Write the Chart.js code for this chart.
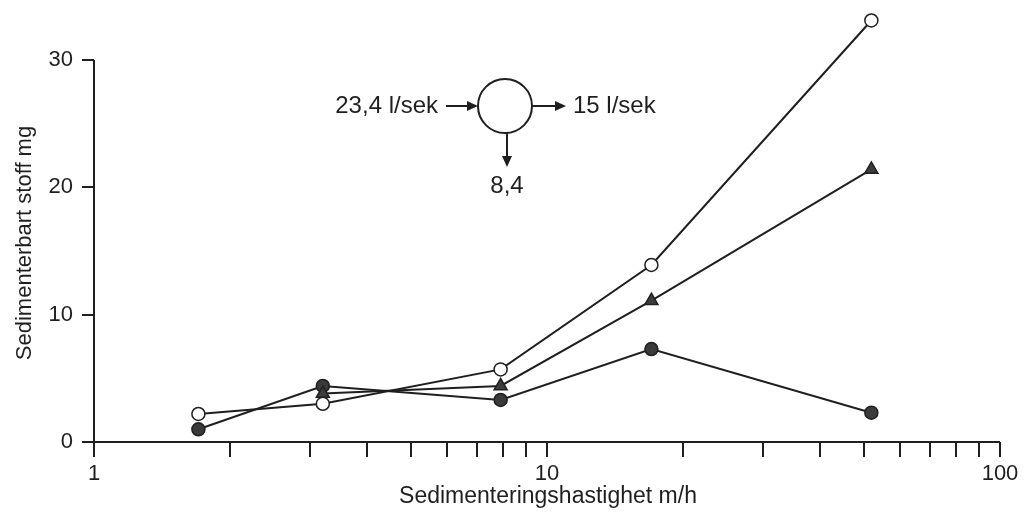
<!DOCTYPE html>
<html>
<head>
<meta charset="utf-8">
<title>Sedimenterbart stoff</title>
<script src="https://cdn.jsdelivr.net/npm/chart.js@4.4.1/dist/chart.umd.min.js"></script>
<style>
  html, body { margin: 0; padding: 0; background: #fff; }
  #wrap { width: 1025px; height: 527px; position: relative; }
</style>
</head>
<body>
<div id="wrap"><canvas id="sediment-chart"></canvas></div>
<script>
const speeds = [1.7, 3.2, 7.9, 17, 52]
const openCircle = [2.2, 3.0, 5.7, 13.9, 33.1]
const triangle = [null, 3.8, 4.4, 11.1, 21.4]
const filledCircle = [1.0, 4.4, 3.3, 7.3, 2.3]

const yTicks = [0, 10, 20, 30]
const xTicks = [1, 2, 3, 4, 5, 6, 7, 8, 9, 10, 20, 30, 40, 50, 60, 70, 80, 90, 100]
const xLabels = [1, 10, 100]

const xTitle = 'Sedimenteringshastighet m/h'
const yTitle = 'Sedimenterbart stoff mg'
const flowIn = '23,4 l/sek'
const flowOut = '15 l/sek'
const flowDown = '8,4'

const ink = '#1f1f1f'
const font = '"Liberation Sans", Arial, sans-serif'

const toPoints = (values) =>
  speeds.map((s, i) => ({ x: s, y: values[i] })).filter((p) => p.y !== null)

const arrowHead = (ctx, x, y, dir) => {
  // dir: 'right' or 'down', tip at x,y
  ctx.beginPath()
  if (dir === 'right') {
    ctx.moveTo(x, y)
    ctx.lineTo(x - 11, y - 5)
    ctx.lineTo(x - 11, y + 5)
  } else {
    ctx.moveTo(x, y)
    ctx.lineTo(x - 5, y - 11)
    ctx.lineTo(x + 5, y - 11)
  }
  ctx.closePath()
  ctx.fill()
}

const axisLines = {
  id: 'axisLines',
  beforeDatasetsDraw: (chart) => {
    const { ctx, scales: { x, y } } = chart
    const y0 = y.getPixelForValue(0)
    ctx.save()
    ctx.strokeStyle = ink
    ctx.lineWidth = 2
    ctx.beginPath()
    ctx.moveTo(x.left, y.getPixelForValue(yTicks[yTicks.length - 1]))
    ctx.lineTo(x.left, y0 + 5)
    ctx.moveTo(x.left - 12, y0)
    ctx.lineTo(x.getPixelForValue(100), y0)
    ctx.stroke()

    ctx.fillStyle = ink
    ctx.textAlign = 'center'
    ctx.textBaseline = 'middle'
    ctx.font = '23px ' + font
    ctx.fillText(xTitle, 548, 497)
    ctx.font = '22px ' + font
    ctx.translate(25, 243)
    ctx.rotate(-Math.PI / 2)
    ctx.fillText(yTitle, 0, 0)
    ctx.restore()
  },
}

const flowDiagram = {
  id: 'flowDiagram',
  afterDraw: (chart) => {
    const ctx = chart.ctx
    const cx = 505, cy = 106, r = 27
    ctx.save()
    ctx.strokeStyle = ink
    ctx.fillStyle = ink
    ctx.lineWidth = 2
    ctx.beginPath()
    ctx.arc(cx, cy, r, 0, Math.PI * 2)
    ctx.stroke()

    ctx.beginPath()
    ctx.moveTo(446, cy)
    ctx.lineTo(cx - r - 4, cy)
    ctx.moveTo(cx + r, cy)
    ctx.lineTo(560, cy)
    ctx.moveTo(cx + 2, cy + r)
    ctx.lineTo(cx + 2, 160)
    ctx.stroke()
    arrowHead(ctx, cx - r, cy, 'right')
    arrowHead(ctx, 566, cy, 'right')
    arrowHead(ctx, cx + 2, 167, 'down')

    ctx.font = '24px ' + font
    ctx.textBaseline = 'middle'
    ctx.textAlign = 'right'
    ctx.fillText(flowIn, 438, cy)
    ctx.textAlign = 'left'
    ctx.fillText(flowOut, 573, cy)
    ctx.textAlign = 'center'
    ctx.fillText(flowDown, cx + 2, 186)
    ctx.restore()
  },
}

const lineStyle = {
  borderColor: ink,
  borderWidth: 2,
  pointRadius: 6.5,
  pointBorderWidth: 1.5,
  pointBorderColor: ink,
  tension: 0,
  clip: false,
}

const config = {
  type: 'line',
  data: {
    datasets: [
      {
        ...lineStyle,
        label: 'open',
        data: toPoints(openCircle),
        pointStyle: 'circle',
        pointBackgroundColor: '#ffffff',
      },
      {
        ...lineStyle,
        label: 'triangle',
        data: toPoints(triangle),
        pointStyle: 'triangle',
        pointRadius: 7.5,
        pointBackgroundColor: '#3c3c3c',
      },
      {
        ...lineStyle,
        label: 'filled',
        data: toPoints(filledCircle),
        pointStyle: 'circle',
        pointBackgroundColor: '#3a3a3a',
      },
    ],
  },
  options: {
    responsive: true,
    maintainAspectRatio: false,
    animation: false,
    layout: { padding: { top: 6, right: 25, left: 0, bottom: 0 } },
    plugins: {
      legend: { display: false },
      tooltip: { enabled: false },
    },
    scales: {
      x: {
        type: 'logarithmic',
        min: 1,
        max: 100,
        border: { display: false },
        grid: {
          drawOnChartArea: false,
          tickLength: 15,
          color: ink,
          lineWidth: 2,
        },
        afterBuildTicks: (scale) => {
          scale.ticks = xTicks.map((v) => ({ value: v }))
        },
        afterFit: (scale) => {
          scale.height = 85
        },
        ticks: {
          autoSkip: false,
          maxRotation: 0,
          padding: 4,
          color: ink,
          font: { family: font, size: 22 },
          callback: (value) => (xLabels.includes(value) ? String(value) : ''),
        },
      },
      y: {
        min: 0,
        max: 34,
        border: { display: false },
        grid: {
          drawOnChartArea: false,
          tickLength: 12,
          color: ink,
          lineWidth: 2,
        },
        afterBuildTicks: (scale) => {
          scale.ticks = yTicks.map((v) => ({ value: v }))
        },
        afterFit: (scale) => {
          scale.width = 94
          scale.paddingTop = 0
          scale.paddingBottom = 0
        },
        ticks: {
          padding: 9,
          color: ink,
          font: { family: font, size: 22 },
        },
      },
    },
  },
  plugins: [axisLines, flowDiagram],
}

new Chart(document.querySelector('#sediment-chart'), config)
</script>
</body>
</html>
